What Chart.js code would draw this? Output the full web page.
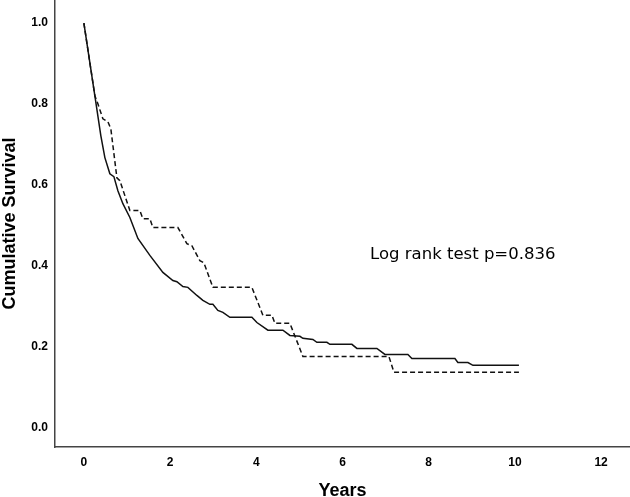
<!DOCTYPE html>
<html>
<head>
<meta charset="utf-8">
<script src="https://cdn.jsdelivr.net/npm/chart.js@4.4.1/dist/chart.umd.min.js"></script>
<style>
html,body{margin:0;padding:0;background:#fff;}
#wrap{width:630px;height:497px;position:relative;}
</style>
</head>
<body>
<div id="wrap"><canvas id="c"></canvas></div>
<script>
// Group 1 (solid line): time in years and cumulative survival
const solidTime = [0, 0.255, 0.394, 0.487, 0.603, 0.696, 0.789, 0.905, 1.067, 1.253, 1.531, 1.833, 2.065, 2.158, 2.297, 2.413, 2.622, 2.761, 2.923, 2.993, 3.109, 3.225, 3.387, 3.898, 4.014, 4.269, 4.617, 4.780, 5.012, 5.081, 5.313, 5.406, 5.638, 5.708, 6.218, 6.334, 6.798, 6.984, 7.517, 7.610, 8.608, 8.677, 8.910, 9.026, 10.093];
const solidSurv = [1.0, 0.820, 0.721, 0.667, 0.627, 0.620, 0.585, 0.553, 0.519, 0.467, 0.425, 0.383, 0.363, 0.360, 0.348, 0.346, 0.326, 0.314, 0.304, 0.304, 0.289, 0.284, 0.272, 0.272, 0.259, 0.240, 0.240, 0.227, 0.225, 0.220, 0.217, 0.210, 0.210, 0.205, 0.205, 0.195, 0.195, 0.180, 0.180, 0.170, 0.170, 0.160, 0.160, 0.153, 0.153];

// Group 2 (dashed line)
const dashTime = [0, 0.255, 0.325, 0.441, 0.557, 0.626, 0.766, 0.835, 1.067, 1.299, 1.369, 1.531, 1.601, 2.181, 2.390, 2.506, 2.691, 2.784, 2.993, 3.898, 4.153, 4.362, 4.432, 4.780, 5.081, 7.077, 7.193, 10.093];
const dashSurv = [1.0, 0.820, 0.800, 0.763, 0.756, 0.738, 0.617, 0.610, 0.536, 0.536, 0.516, 0.516, 0.494, 0.494, 0.454, 0.449, 0.412, 0.407, 0.346, 0.346, 0.277, 0.277, 0.257, 0.257, 0.175, 0.175, 0.136, 0.136];

const xTicks = [0, 2, 4, 6, 8, 10, 12];
const yTicks = [0.0, 0.2, 0.4, 0.6, 0.8, 1.0];

const xTitle = 'Years';
const yTitle = 'Cumulative Survival';
const annotation = 'Log rank test p=0.836';
const annotX = 6.64, annotY = 0.417;

const toPts = (t, s) => t.map((v, i) => ({x: v, y: s[i]}));

const textPlugin = {
  id: 'texts',
  afterDraw(chart) {
    const ctx = chart.ctx;
    const ca = chart.chartArea;
    const xs = chart.scales.x, ys = chart.scales.y;
    ctx.save();
    ctx.fillStyle = '#000';
    // y title
    ctx.font = 'bold 18px "Liberation Sans", Arial, sans-serif';
    ctx.textAlign = 'center';
    ctx.textBaseline = 'alphabetic';
    ctx.save();
    ctx.translate(15, (ca.top + ca.bottom) / 2);
    ctx.rotate(-Math.PI / 2);
    ctx.fillText(yTitle, 0, 0);
    ctx.restore();
    // x title
    ctx.fillText(xTitle, (ca.left + ca.right) / 2, 496);
    // annotation
    ctx.font = '16.5px "DejaVu Sans", sans-serif';
    ctx.textAlign = 'left';
    ctx.fillText(annotation, xs.getPixelForValue(annotX), ys.getPixelForValue(annotY));
    ctx.restore();
  }
};

const tickFont = {family: '"Liberation Sans", Arial, sans-serif', size: 12, weight: 'bold'};

new Chart(document.getElementById('c'), {
  type: 'line',
  data: {
    datasets: [
      {
        label: 'solid',
        data: toPts(solidTime, solidSurv),
        borderColor: '#111',
        borderWidth: 1.5,
        pointRadius: 0,
        tension: 0,
        fill: false
      },
      {
        label: 'dashed',
        data: toPts(dashTime, dashSurv),
        borderColor: '#111',
        borderWidth: 1.5,
        borderDash: [5, 3],
        pointRadius: 0,
        tension: 0,
        fill: false
      }
    ]
  },
  options: {
    responsive: true,
    maintainAspectRatio: false,
    animation: false,
    events: [],
    layout: {padding: 0},
    plugins: {legend: {display: false}, tooltip: {enabled: false}},
    scales: {
      x: {
        type: 'linear',
        min: -0.67,
        max: 12.67,
        afterBuildTicks: s => { s.ticks = xTicks.map(v => ({value: v})); },
        afterFit: s => { s.height = 50; s.paddingLeft = 0; s.paddingRight = 0; },
        grid: {display: false, drawTicks: false},
        border: {display: true, color: '#444', width: 1.5},
        ticks: {color: '#000', font: tickFont, padding: 8, maxRotation: 0, autoSkip: false,
                callback: v => String(v)}
      },
      y: {
        type: 'linear',
        min: -0.049,
        max: 1.057,
        afterBuildTicks: s => { s.ticks = yTicks.map(v => ({value: v})); },
        afterFit: s => { s.width = 55; s.paddingTop = 0; s.paddingBottom = 0; },
        grid: {display: false, drawTicks: false},
        border: {display: true, color: '#444', width: 1.5},
        ticks: {color: '#000', font: tickFont, padding: 7, autoSkip: false,
                callback: v => Number(v).toFixed(1)}
      }
    }
  },
  plugins: [textPlugin]
});
</script>
</body>
</html>
